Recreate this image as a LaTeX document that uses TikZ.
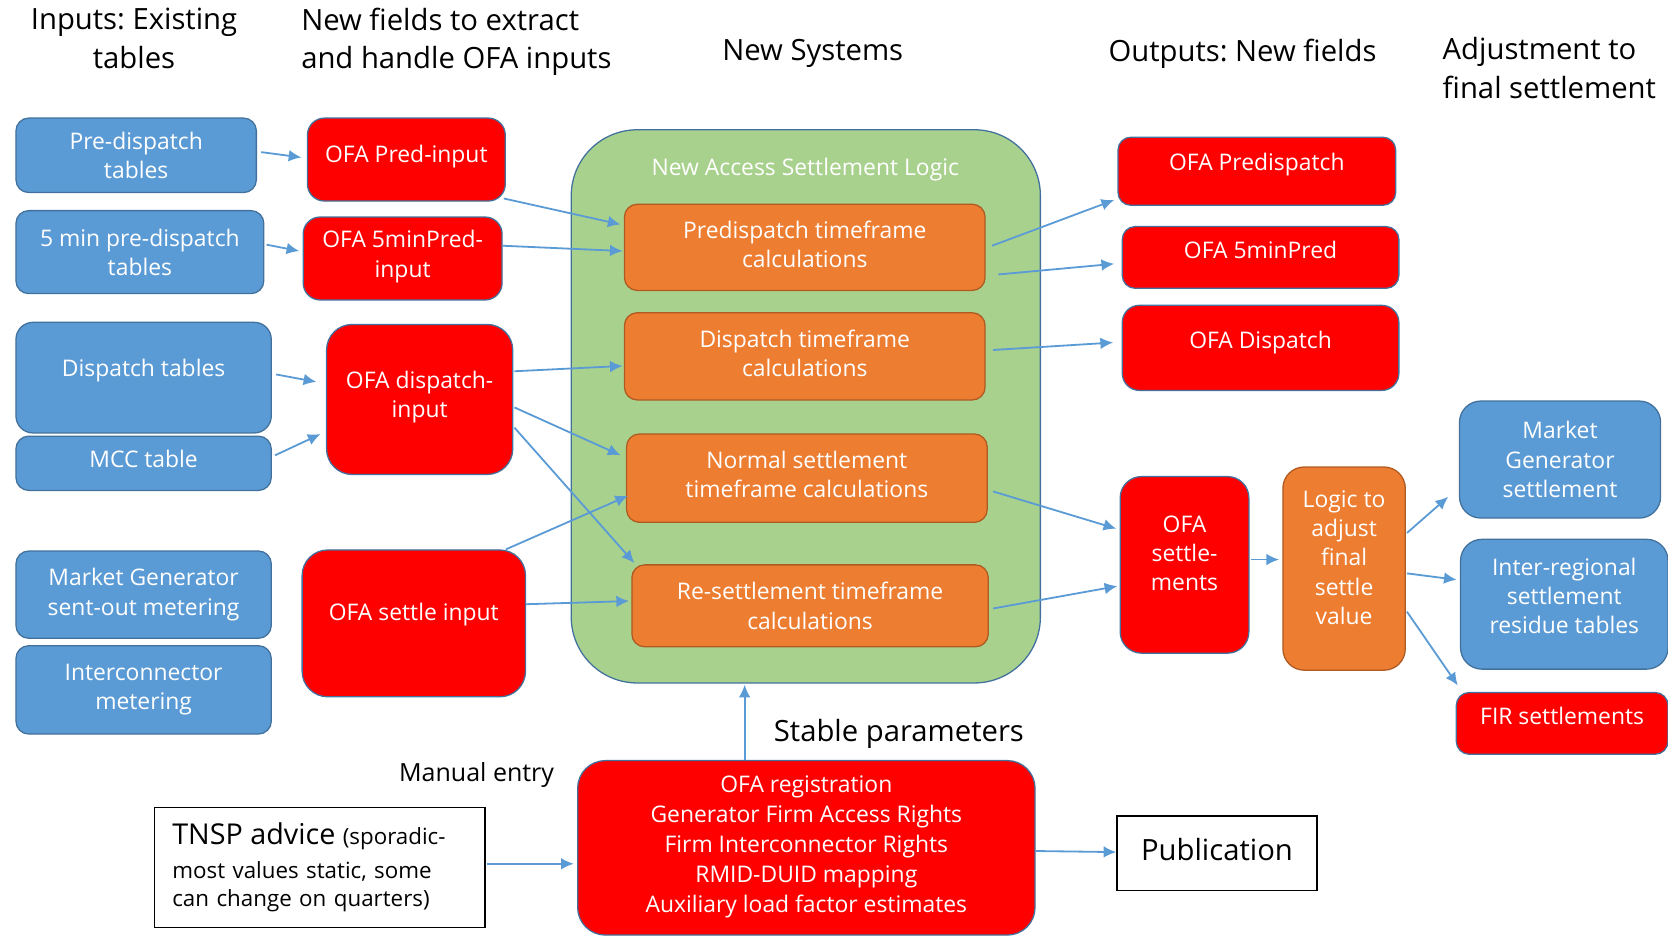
\documentclass[tikz,border=0pt]{standalone}
\usepackage{fontspec}
\setmainfont{Open Sans}
\frenchspacing
\usetikzlibrary{calc,arrows.meta}
\definecolor{boxblue}{HTML}{5B9BD5}
\definecolor{edgeblue}{HTML}{41719C}
\definecolor{ofared}{HTML}{FF0000}
\definecolor{calcorange}{HTML}{ED7D31}
\definecolor{calcedge}{HTML}{AE5A21}
\definecolor{logicgreen}{HTML}{A9D18E}
% deeper last line, so the text sits a little above the middle of its box
\newcommand{\lowstrut}[1]{\rule[-#1]{0pt}{#1}}

\begin{document}
\begin{tikzpicture}
		[x=1pt, y=-1pt,
		box/.style ={rectangle, draw=edgeblue, line width=1.2pt, text=white, align=center, inner sep=0pt, rounded corners=12pt, font=\fontsize{21.5}{27.5}\selectfont},
		tab/.style ={box, fill=boxblue},
		ofa/.style ={box, fill=ofared, rounded corners=16pt},
		calcbox/.style ={box, fill=calcorange, draw=calcedge},
		logic/.style ={rectangle, draw=edgeblue, line width=1.2pt, fill=logicgreen, rounded corners=62pt, inner sep=0pt},
		plain/.style ={rectangle, draw=black, line width=1.2pt, fill=white, inner sep=0pt},
		head/.style ={align=center, inner sep=0pt, font=\fontsize{27.5}{36}\selectfont},
		flow/.style ={draw=boxblue, line width=1.7pt, -{Latex[length=12pt,width=11pt]}},
		]
		\useasboundingbox (0,0) rectangle (1568,880);

		% headings
		\draw (126,36) node[head] (H1) {Inputs: Existing\\tables};
		\draw (283,39) node[head, align=left, anchor=west] (H2) {New fields to extract\\and handle OFA inputs};
		\draw (764,50) node[head] (H3) {New Systems};
		\draw (1168,51) node[head] (H4) {Outputs: New fields};
		\draw (1356,64) node[head, align=left, anchor=west] (H5) {Adjustment to\\final settlement};

		% existing tables
		\draw (128,146) node[tab, minimum width=226pt, minimum height=70pt] (PD) {Pre-dispatch\\tables};
		\draw (131.5,237) node[tab, minimum width=233pt, minimum height=78pt] (FPD) {5 min pre-dispatch\\tables};
		\draw (135,355) node[tab, minimum width=240pt, minimum height=104pt, rounded corners=16pt] (DT) {Dispatch tables\lowstrut{18pt}};
		\draw (135,435.5) node[tab, minimum width=240pt, minimum height=51pt] (MCC) {MCC table\lowstrut{8pt}};
		\draw (135,559) node[tab, minimum width=240pt, minimum height=82pt] (MGM) {Market Generator\\sent-out metering\lowstrut{5pt}};
		\draw (135,648.5) node[tab, minimum width=240pt, minimum height=83pt] (ICM) {Interconnector\\metering\lowstrut{5pt}};

		% new input fields
		\draw (382,150) node[ofa, minimum width=186pt, minimum height=78pt] (PI) {OFA Pred-input\lowstrut{10pt}};
		\draw (378.5,243) node[ofa, minimum width=187pt, minimum height=78pt] (FPI) {OFA 5minPred-\\input\lowstrut{9pt}};
		\draw (394.5,375.5) node[ofa, minimum width=175pt, minimum height=141pt, rounded corners=24pt] (DI) {OFA dispatch-\\input\lowstrut{10pt}};
		\draw (389,586) node[ofa, minimum width=210pt, minimum height=138pt, rounded corners=24pt] (SI) {OFA settle input\lowstrut{22pt}};

		% new systems
		\draw (757.5,382) node[logic, minimum width=441pt, minimum height=520pt] (NASL) {};
		\draw (757,159) node[box, draw=none] (NASLt) {New Access Settlement Logic};
		\draw (756.5,232.5) node[calcbox, minimum width=339pt, minimum height=81pt] (PTF) {Predispatch timeframe\\calculations\lowstrut{6pt}};
		\draw (756.5,335) node[calcbox, minimum width=339pt, minimum height=82pt] (DTF) {Dispatch timeframe\\calculations\lowstrut{6pt}};
		\draw (758.5,449.5) node[calcbox, minimum width=339pt, minimum height=83pt] (NTF) {Normal settlement\\timeframe calculations\lowstrut{7pt}};
		\draw (761.5,569.5) node[calcbox, minimum width=335pt, minimum height=77pt] (RTF) {Re-settlement timeframe\\calculations};

		% outputs
		\draw (1181.5,161) node[ofa, minimum width=261pt, minimum height=64pt, rounded corners=12pt] (OPD) {OFA Predispatch\lowstrut{18pt}};
		\draw (1185,242) node[ofa, minimum width=260pt, minimum height=58pt, rounded corners=12pt] (OFP) {OFA 5minPred\lowstrut{14pt}};
		\draw (1185,327) node[ofa, minimum width=260pt, minimum height=80pt] (ODP) {OFA Dispatch\lowstrut{16pt}};
		\draw (1113.5,531) node[ofa, minimum width=121pt, minimum height=166pt, rounded corners=20pt] (OST) {OFA\\settle-\\ments\lowstrut{22pt}};

		% adjustment
		\draw (1263.5,534.5) node[calcbox, minimum width=115pt, minimum height=191pt, rounded corners=20pt] (LOG) {Logic to\\adjust\\final\\settle\\value\lowstrut{21pt}};
		\draw (1466.5,432) node[tab, minimum width=189pt, minimum height=110pt, rounded corners=20pt] (MGS) {Market\\Generator\\settlement};
		\draw (1470.5,568) node[tab, minimum width=195pt, minimum height=122pt, rounded corners=20pt] (IRS) {Inter-regional\\settlement\\residue tables\lowstrut{16pt}};
		\draw (1468.5,680) node[ofa, minimum width=199pt, minimum height=58pt, rounded corners=12pt] (FIR) {FIR settlements\lowstrut{14pt}};

		% stable parameters
		\draw (758,797) node[ofa, minimum width=430pt, minimum height=164pt, rounded corners=26pt, font=\fontsize{21.5}{28}\selectfont] (REG) {OFA registration\\Generator Firm Access Rights\\Firm Interconnector Rights\\RMID-DUID mapping\\Auxiliary load factor estimates\lowstrut{7pt}};
		\draw (300.5,815.5) node[plain, minimum width=311pt, minimum height=113pt, text width=277pt, align=left, font=\fontsize{21}{26}\selectfont] (TNSP) {{\fontsize{27}{27}\selectfont TNSP advice} (sporadic-\\[6pt]most values static, some\\can change on quarters)};
		\draw (1144,802) node[plain, minimum width=188pt, minimum height=70pt, font=\fontsize{27.5}{30}\selectfont] (PUB) {Publication\lowstrut{8pt}};
		\draw (448,729) node[font=\fontsize{23.5}{28}\selectfont, inner sep=0pt] (ME) {Manual entry};
		\draw (845,690) node[font=\fontsize{27.5}{30}\selectfont, inner sep=0pt] (SP) {Stable parameters};

		\path[every edge/.style=flow]
		($(PD.east)+(4,-3)$) edge ($(PI.west)+(-5,-2)$)
		($(FPD.east)+(2,-7)$) edge ($(FPI.west)+(-3,-7)$)
		($(DT.east)+(4,-3)$) edge ($(DI.west)+(-9,-16.5)$)
		($(MCC.east)+(3,-7.5)$) edge ($(DI.west)+(-5,32.5)$)
		($(PI.south east)+(-2,-3)$) edge ($(PTF.west)+(-3,-21.5)$)
		($(FPI.east)+(0,-12)$) edge ($(PTF.west)+(-1,3.5)$)
		($(DI.east)+(1,-26.5)$) edge ($(DTF.west)+(-1,9)$)
		($(DI.east)+(1,7.5)$) edge ($(NTF.west)+(-5,-21.5)$)
		($(DI.east)+(1,26.5)$) edge ($(RTF.north west)+(3,-1)$)
		($(SI.north east)+(-19,0)$) edge ($(NTF.west)+(2,16.5)$)
		($(SI.east)+(0,-18)$) edge ($(RTF.west)+(-2,-4.5)$)
		($(PTF.east)+(6,-1.5)$) edge ($(OPD.west)+(-3,27)$)
		($(PTF.east)+(12,25.5)$) edge ($(OFP.west)+(-7,6)$)
		($(DTF.east)+(7,-6)$) edge ($(ODP.west)+(-8,-5)$)
		($(NTF.east)+(5,12.5)$) edge ($(OST.west)+(-3,-34)$)
		($(RTF.east)+(4,2.5)$) edge ($(OST.west)+(-2,20)$)
		($(OST.east)+(1,-5)$) edge ($(LOG.west)+(-3,-8.5)$)
		($(LOG.east)+(1,-33.5)$) edge ($(MGS.west)+(-10,35)$)
		($(LOG.east)+(1,4.5)$) edge ($(IRS.west)+(-3,-23)$)
		($(LOG.east)+(1,40.5)$) edge ($(FIR.north west)+(2,-6)$)
		($(TNSP.east)+(1,-3.5)$) edge ($(REG.west)+(-3,15)$)
		($(REG.east)+(0,3)$) edge ($(PUB.west)+(0,-1)$)
		($(REG.north)+(-58,0)$) edge ($(NASL.south)+(-57.5,1)$);

	\end{tikzpicture}
\end{document}
